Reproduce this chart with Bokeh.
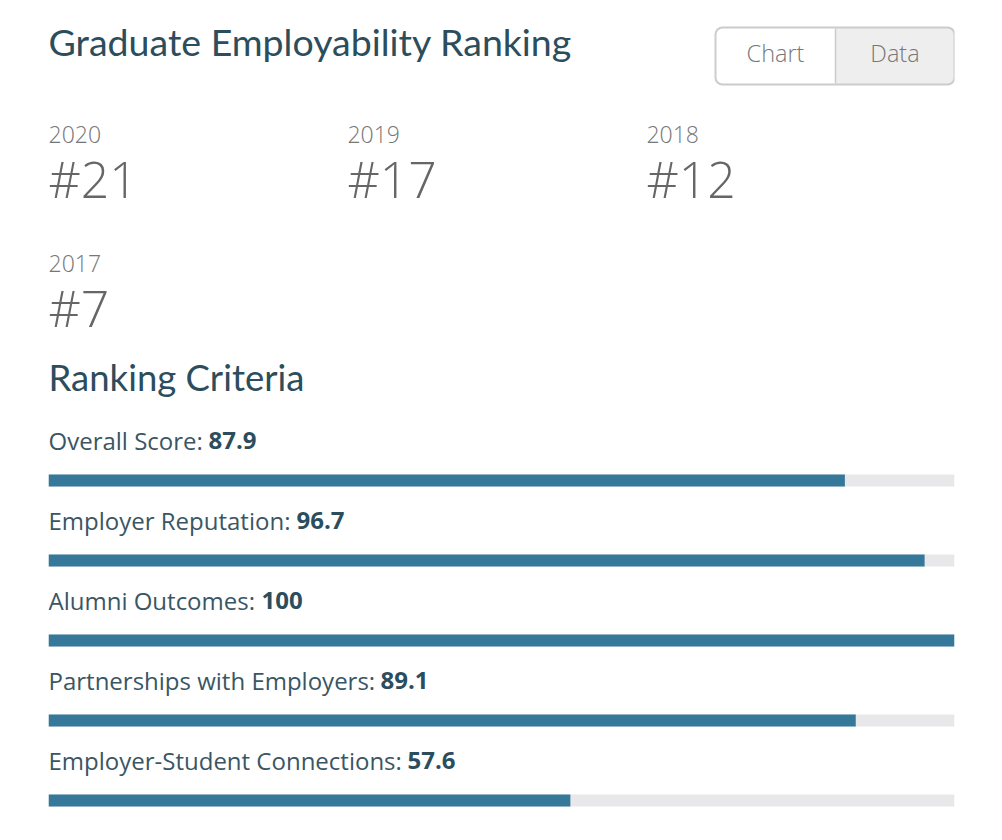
from bokeh.plotting import figure
from bokeh.models import Range1d, ColumnDataSource
from bokeh.core.properties import value
from bokeh.embed import file_html
from bokeh.resources import INLINE

# ---- data ----
title = "Graduate Employability Ranking"
years = ["2020", "2019", "2018", "2017"]
ranks = ["#21", "#17", "#12", "#7"]
criteria = ["Overall Score", "Employer Reputation", "Alumni Outcomes",
            "Partnerships with Employers", "Employer-Student Connections"]
scores = [87.9, 96.7, 100, 89.1, 57.6]
score_labels = ["87.9", "96.7", "100", "89.1", "57.6"]
buttons = ["Chart", "Data"]

# ---- layout (pixels) ----
FW, FH = 906, 824
p = figure(width=FW + 88, height=FH + 8, output_backend="svg", toolbar_location=None,
           x_range=Range1d(0, 100), y_range=Range1d(FH, 0),
           min_border_left=48, min_border_right=40, min_border_top=8, min_border_bottom=0,
           x_axis_location=None, y_axis_location=None)
p.grid.visible = False
p.outline_line_color = None
p.background_fill_color = "white"
p.border_fill_color = "white"

TITLE_C = "#2c4d5c"
TEXT_C = "#3a5664"
GRAY = "#666666"
HEAD_FONT = value("Lato")
BODY_FONT = value("Open Sans")
LIGHT_FONT = value("Open Sans Light, Open Sans")


def ty(baseline, size):
    # place a text so that its baseline lands at the given page y
    return baseline - 8 - 0.42 * size


p.text(x=[0], y=[ty(57, 37.5)], text=[title], text_font=HEAD_FONT, text_font_size="37.5px",
       text_color=TITLE_C, text_baseline="alphabetic", text_align="left")

# buttons
bx = [(715 - 48) / 9.06, (835 - 48) / 9.06, 100.0]
p.quad(left=[bx[0]], right=[bx[1]], top=[19], bottom=[76], fill_color="white",
       line_color=None)
p.quad(left=[bx[1]], right=[bx[2]], top=[19], bottom=[76], fill_color="#eeeeee",
       line_color=None, border_radius=[0, 7, 7, 0])
p.quad(left=[bx[0]], right=[bx[2]], top=[19], bottom=[76], fill_color=None,
       line_color="#cccccc", line_width=2, border_radius=7)
p.segment(x0=[bx[1]], x1=[bx[1]], y0=[20], y1=[75], line_color="#cccccc", line_width=1.5)
p.text(x=[(bx[0] + bx[1]) / 2, (bx[1] + bx[2]) / 2], y=[ty(62, 23.5)] * 2, text=buttons,
       text_font=LIGHT_FONT, text_font_size="23.5px", text_color="#777777",
       text_align="center", text_baseline="alphabetic")

# year ranks
col_x = [0, 33.0, 66.0, 0]
yr_y = [ty(144, 23)] * 3 + [ty(273, 23)]
rk_y = [ty(199, 50)] * 3 + [ty(328, 50)]
p.text(x=col_x, y=yr_y, text=years, text_font=LIGHT_FONT, text_font_size="23px",
       text_color="#777777", text_baseline="alphabetic")
p.text(x=col_x, y=rk_y, text=ranks, text_font=LIGHT_FONT, text_font_size="50px",
       text_color=GRAY, text_baseline="alphabetic")

p.text(x=[0], y=[ty(392, 36.5)], text=["Ranking Criteria"], text_font=HEAD_FONT,
       text_font_size="36.5px", text_color=TITLE_C, text_baseline="alphabetic")

# criteria bars
n = len(criteria)
label_y = [ty(450 + 80 * i, 24) for i in range(n)]
bar_y = [472 + 80 * i for i in range(n)]
name_offsets = [160, 248, 213, 332, 359]
src = ColumnDataSource(dict(y=bar_y, ly=label_y, score=scores,
                            name=[c + ":" for c in criteria], val=score_labels,
                            zero=[0] * n, full=[100] * n, off=name_offsets))
p.hbar(y="y", left="zero", right="full", height=12, source=src,
       fill_color="#e8e8ea", line_color=None)
p.hbar(y="y", left="zero", right="score", height=12, source=src,
       fill_color="#357899", line_color=None)
p.text(x="zero", y="ly", text="name", source=src, text_font=BODY_FONT,
       text_font_size="24px", text_color=TEXT_C, text_baseline="alphabetic")
p.text(x="zero", y="ly", text="val", x_offset="off", source=src, text_font=BODY_FONT,
       text_font_size="24px", text_font_style="bold", text_color=TITLE_C,
       text_baseline="alphabetic")

open("out.html", "w").write(file_html(p, INLINE))
